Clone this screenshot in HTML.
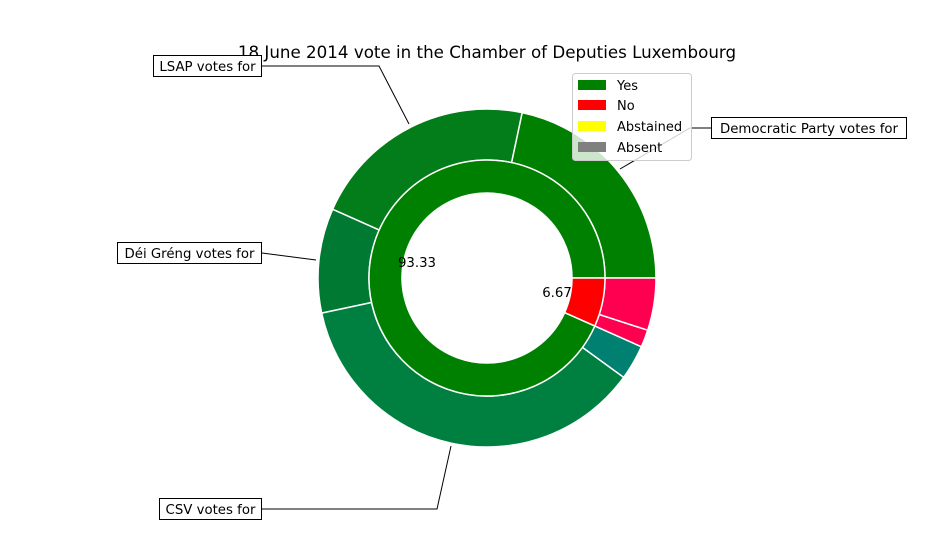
<!DOCTYPE html>
<html><head><meta charset="utf-8"><style>
body{margin:0;background:#fff}
svg{display:block;font-family:"DejaVu Sans","Liberation Sans",sans-serif}
</style></head><body>
<svg id="chart" width="950" height="550">
<text x="487" y="58" text-anchor="middle" font-size="16.7">18 June 2014 vote in the Chamber of Deputies Luxembourg</text>
<g id="rings"></g>
<text x="417" y="267" text-anchor="middle" font-size="13.3">93.33</text>
<text x="557" y="297" text-anchor="middle" font-size="13.3">6.67</text>
<g>
<polyline points="262,66 379,66 409,124" fill="none" stroke="#000" stroke-width="1"/>
<rect x="153.5" y="55.5" width="108" height="21" fill="#fff" stroke="#000"/>
<text x="207.5" y="71" text-anchor="middle" font-size="13.3">LSAP votes for</text></g>
<g>
<polyline points="711,128 690,128 620,169" fill="none" stroke="#000" stroke-width="1"/>
<rect x="711.5" y="117.5" width="195" height="21" fill="#fff" stroke="#000"/>
<text x="809" y="133" text-anchor="middle" font-size="13.3">Democratic Party votes for</text></g>
<g>
<polyline points="262,253 316,260" fill="none" stroke="#000" stroke-width="1"/>
<rect x="117.5" y="242.5" width="144" height="21" fill="#fff" stroke="#000"/>
<text x="189.5" y="258" text-anchor="middle" font-size="13.3">Déi Gréng votes for</text></g>
<g>
<polyline points="262,509 437,509 451,446" fill="none" stroke="#000" stroke-width="1"/>
<rect x="159.5" y="498.5" width="102" height="21" fill="#fff" stroke="#000"/>
<text x="210.5" y="514" text-anchor="middle" font-size="13.3">CSV votes for</text></g>
<g>
<rect x="572.5" y="73.5" width="119" height="87" rx="3" fill="#fff" fill-opacity="0.8" stroke="#ccc"/>
<g><rect x="578" y="80" width="28" height="10" fill="#008000"/><text x="617" y="90" font-size="13">Yes</text></g>
<g><rect x="578" y="100" width="28" height="10" fill="#ff0000"/><text x="617" y="110" font-size="13">No</text></g>
<g><rect x="578" y="121" width="28" height="10" fill="#ffff00"/><text x="617" y="131" font-size="13">Abstained</text></g>
<g><rect x="578" y="142" width="28" height="10" fill="#808080"/><text x="617" y="152" font-size="13">Absent</text></g>
</g>
</svg>
<script>
const innerLabels = ["yes","no"];
const innerValues = [56, 4];
const innerColors = ["#008000","#ff0000"];
const outerLabels = ["dp-yes","lsap-yes","greng-yes","csv-yes","adr-yes","no-a","no-b"];
const outerValues = [13, 13, 6, 22, 2, 1, 3];
const outerColors = ["#008000","#037d1a","#007a33","#008040","#008070","#ff0050","#ff0050"];
const cx=487, cy=278;
const g=document.getElementById('rings');
function pt(r,a){return [cx+r*Math.cos(a*Math.PI/180), cy-r*Math.sin(a*Math.PI/180)];}
function ring(vals,cols,names,r0,r1,prefix){
  const tot=vals.reduce((a,b)=>a+b,0);let a=0;
  vals.forEach((v,i)=>{
    const a2=a+v/tot*360, large=(a2-a)>180?1:0;
    const p1=pt(r1,a),p2=pt(r1,a2),p3=pt(r0,a2),p4=pt(r0,a);
    const p=document.createElementNS('http://www.w3.org/2000/svg','path');
    p.setAttribute('d',`M${p1[0]},${p1[1]} A${r1},${r1} 0 ${large} 0 ${p2[0]},${p2[1]} L${p3[0]},${p3[1]} A${r0},${r0} 0 ${large} 1 ${p4[0]},${p4[1]} Z`);
    p.setAttribute('fill',cols[i]);p.setAttribute('stroke','#fff');p.setAttribute('stroke-width','1.5');
    
    
    g.appendChild(p);a=a2;
  });
}
ring(outerValues,outerColors,outerLabels,118,169,'outer-slice');
ring(innerValues,innerColors,innerLabels,85,118,'inner-slice');
</script>
</body></html>
